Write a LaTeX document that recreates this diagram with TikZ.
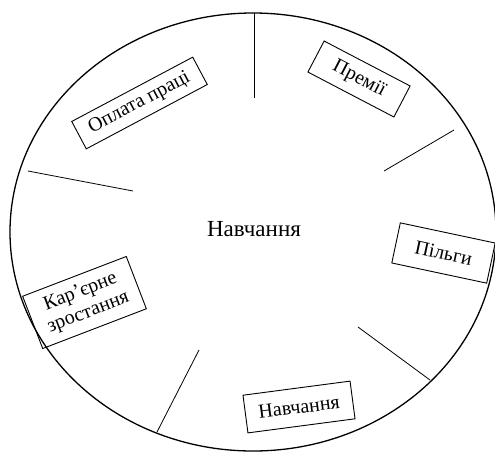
\documentclass[tikz,border=0pt]{standalone}
\usepackage{fontspec}
\setmainfont{Liberation Serif}
\usetikzlibrary{shapes.geometric}
\begin{document}
\begin{tikzpicture}[x=1pt,y=-1pt,
  lab/.style={draw, line width=0.9pt, font=\fontsize{20}{22}\selectfont, align=center, inner sep=0pt},
  spoke/.style={line width=0.8pt}]
\useasboundingbox (0,0) rectangle (495,451);
\node[draw, line width=1.3pt, ellipse, minimum width=486pt, minimum height=438pt, inner sep=0pt] (oval) at (253,232) {};
\node[font=\fontsize{23}{26}\selectfont] (center) at (254,229) {Навчання};
\node[lab, rotate=28, minimum width=137pt, minimum height=31pt] (pay) at (139.5,103) {Оплата праці};
\node[lab, rotate=-27.6, minimum width=97pt, minimum height=35pt] (prem) at (359,79) {Премії};
\node[lab, rotate=-12, minimum width=97pt, minimum height=41pt] (pilg) at (443.5,253) {Пільги};
\node[lab, rotate=21, minimum width=111pt, minimum height=56pt] (career) at (84.5,302.5) {Кар’єрне\\зростання};
\node[lab, rotate=7.5, minimum width=108pt, minimum height=38pt] (study) at (299,407) {Навчання};
\coordinate (s1a) at (254,13);  \coordinate (s1b) at (254,98);
\coordinate (s2a) at (454,130); \coordinate (s2b) at (384,171);
\coordinate (s3a) at (28,171);  \coordinate (s3b) at (133,191);
\coordinate (s4a) at (358,327); \coordinate (s4b) at (430,380);
\coordinate (s5a) at (199,350); \coordinate (s5b) at (157,432);
\draw[spoke] (s1a) -- (s1b);
\draw[spoke] (s2a) -- (s2b);
\draw[spoke] (s3a) -- (s3b);
\draw[spoke] (s4a) -- (s4b);
\draw[spoke] (s5a) -- (s5b);
\end{tikzpicture}
\end{document}
